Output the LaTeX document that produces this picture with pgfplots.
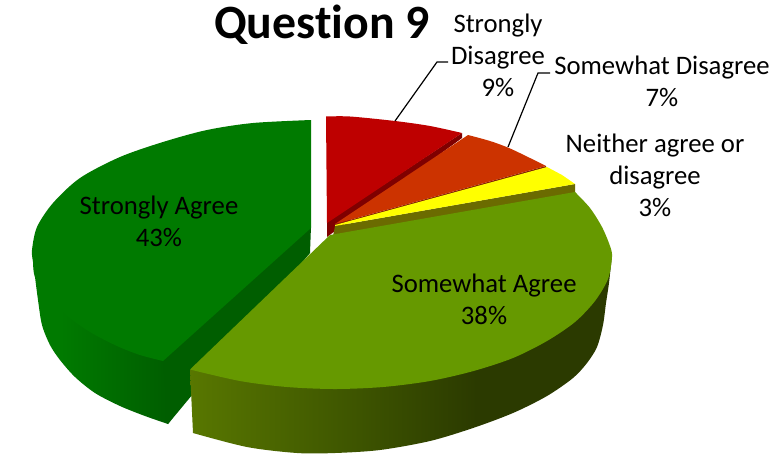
\documentclass[border=0pt]{standalone}
\usepackage{fontspec}
\setmainfont{Carlito}[Ligatures=NoCommon]
\usepackage{pgfplots}
\pgfplotsset{compat=1.18}

\definecolor{greentop}{HTML}{007A00}
\definecolor{greenside}{HTML}{005E00}
\definecolor{redtop}{HTML}{BE0000}
\definecolor{redside}{HTML}{7F0000}
\definecolor{orangetop}{HTML}{CC3300}
\definecolor{orangeside}{HTML}{7F2000}
\definecolor{yellowtop}{HTML}{FFFF00}
\definecolor{yellowside}{HTML}{6B6B00}
\definecolor{olivetop}{HTML}{669900}
\definecolor{oliveA}{HTML}{587700}
\definecolor{oliveB}{HTML}{3D5400}
\definecolor{oliveC}{HTML}{2B3A00}

\pgfdeclarehorizontalshading{olivewall}{100bp}{color(0bp)=(oliveA); color(25bp)=(oliveA); color(45bp)=(oliveB); color(59bp)=(oliveC); color(100bp)=(oliveC)}
\pgfdeclarehorizontalshading{greenwall}{100bp}{color(0bp)=(greentop); color(30bp)=(greentop); color(49bp)=(greenside); color(100bp)=(greenside)}

\begin{document}
\begin{tikzpicture}
\begin{axis}[
    width=784pt, height=453pt, scale only axis,
    xmin=0, xmax=784, ymin=0, ymax=453, y dir=reverse,
    hide axis, clip=false,
    nodes={font=\fontsize{26.7}{32}\selectfont, align=center, text=black},
  ]
  % hidden axis has no box of its own, keep the full page size
  \path (axis cs:0,0) rectangle (axis cs:784,453);

  % green slice, 43%
  \addplot[shade, shading=greenwall, draw=none, smooth]
    coordinates{(33,262)(35,277)(38,300)(42,325)(50,345)(60,360)(75,377)(95,393)(120,406)(145,416)(168,424)}
    -- (axis cs:311,228) -- cycle;
  \addplot[fill=greenside, draw=none]
    coordinates{(311,226)(310,253)(168,424)(163,361)} -- cycle;
  \addplot[fill=greentop, draw=none, smooth]
    coordinates{(311,120)(253,123)(207,130)(163,142)(120,157)(80,178)(53,203)(37,227)(32,250)(33,262)(35,277)(48,297)(66,315)(90,332)(117,346)(140,355)(163,361)}
    -- (axis cs:311,228) -- cycle;

  % red slice, 9%
  \addplot[fill=redside, draw=none]
    coordinates{(462,133)(462,138)(335,231)(327,237)(327,222)} -- cycle;
  \addplot[fill=redtop, draw=none, smooth]
    coordinates{(326,116.5)(350,116.5)(395,121)(430,126)(462,133)}
    -- (axis cs:327,223) -- cycle;

  % orange slice, 7%
  \addplot[fill=orangeside, draw=none]
    coordinates{(546,166)(546,168)(335,227)(335,224)} -- cycle;
  \addplot[fill=orangetop, draw=none, smooth]
    coordinates{(468,135)(490,141)(509,148)(530,158)(546,166)}
    -- (axis cs:335,224) -- cycle;

  % yellow slice, 3%
  \addplot[fill=yellowside, draw=none]
    coordinates{(575,184)(575,193)(333,236)(335,226)} -- cycle;
  \addplot[fill=yellowtop, draw=none]
    coordinates{(547,167)(562,175)(575,184)(335,226)(335,225)} -- cycle;

  % olive slice, 38%
  \addplot[shade, shading=olivewall, draw=none, smooth]
    coordinates{(612,255)(609,283)(606,303)(603,325)(597,347)(587,363)(573,378)(547,396)(513,413)(473,428)(430,441)(380,450)(335,453)(297,453)(247,447)(193,433)}
    -- (axis cs:190,370) -- cycle;
  \addplot[fill=olivetop, draw=none, smooth]
    coordinates{(575,192)(590,208)(602,227)(610,246)(612,257)(608,279)(595,301)(575,322)(547,341)(513,358)(473.5,371)(430,381)(383,387)(335,389)(287,387)(240,381)(190,369.5)}
    -- (axis cs:330,235) -- cycle;

  % leader lines
  \addplot[black, line width=1.2pt] coordinates{(395,121)(437,62)(448,62)};
  \addplot[black, line width=1.2pt] coordinates{(508,147)(538,73)(550,73)};

  \node at (axis cs:322,25) {\fontsize{47.8}{56}\selectfont\bfseries Question 9};
  \node at (axis cs:498,55) {Strongly\\Disagree\\9\%};
  \node at (axis cs:662,81) {Somewhat Disagree\\7\%};
  \node at (axis cs:655,175) {Neither agree or\\disagree\\3\%};
  \node at (axis cs:159,221) {Strongly Agree\\43\%};
  \node at (axis cs:484,299) {Somewhat Agree\\38\%};
\end{axis}
\end{tikzpicture}
\end{document}
